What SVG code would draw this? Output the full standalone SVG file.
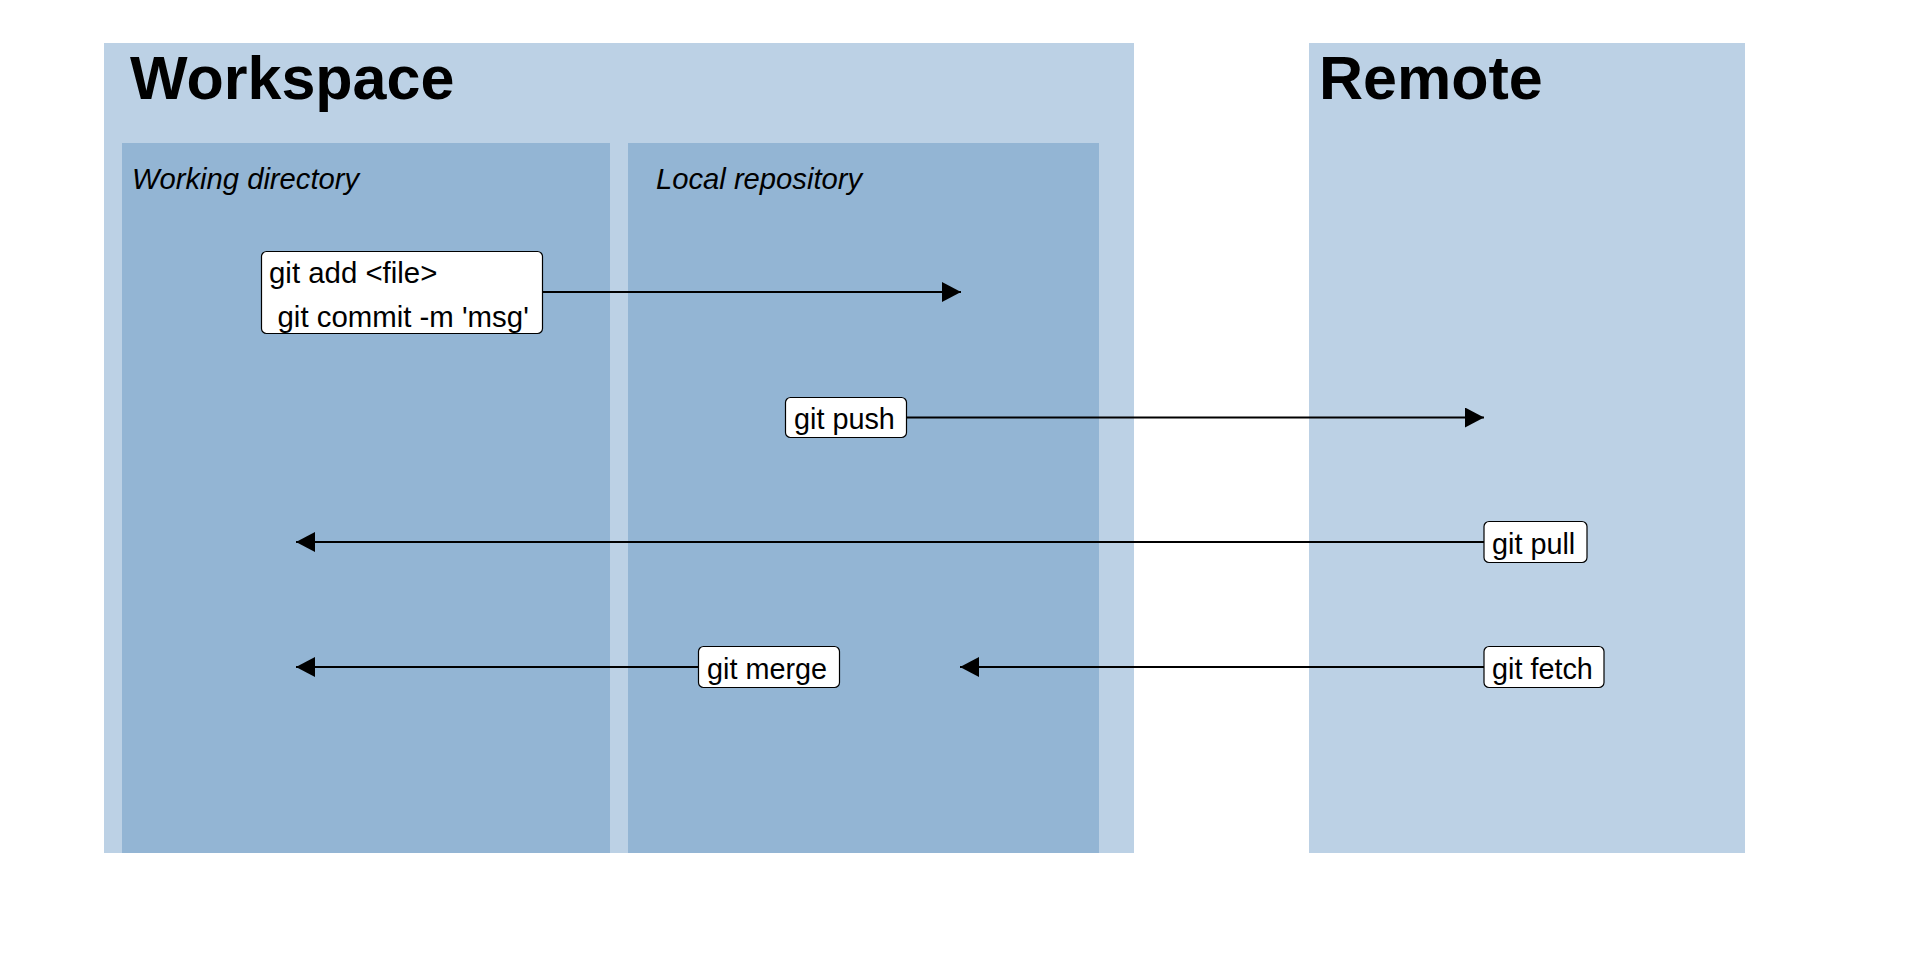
<svg xmlns="http://www.w3.org/2000/svg" width="1920" height="960" viewBox="0 0 1920 960">
  <style>
    .outer { fill: #bcd1e5; }
    .inner { fill: #93b5d4; }
    .title { font-family: "Liberation Sans", Arial, sans-serif; font-weight: bold; font-size: 61px; fill: #000; }
    .sub { font-family: "Liberation Sans", Arial, sans-serif; font-style: italic; font-size: 29.2px; fill: #000; }
    .box { fill: #fff; stroke: #000; stroke-width: 1.2; }
    .lbl { font-family: "Liberation Sans", Arial, sans-serif; font-size: 28.8px; fill: #000; }
    .conn { stroke: #000; stroke-width: 2; fill: none; marker-end: url(#arrow); }
  </style>
  <defs>
    <marker id="arrow" markerUnits="userSpaceOnUse" markerWidth="20" markerHeight="20" refX="19" refY="10" orient="auto">
      <path d="M0,0 L19,10 L0,20 z" fill="#000"/>
    </marker>
  </defs>
  <rect width="1920" height="960" fill="#fff"/>

  <g id="workspace">
    <rect class="outer" x="104" y="43" width="1030" height="810"/>
    <text class="title" x="130" y="98.5">Workspace</text>
  </g>
  <g id="working-directory">
    <rect class="inner" x="122" y="143" width="488" height="710"/>
    <text class="sub" x="132" y="189">Working directory</text>
  </g>
  <g id="local-repository">
    <rect class="inner" x="628" y="143" width="471" height="710"/>
    <text class="sub" x="656" y="189">Local repository</text>
  </g>
  <g id="remote">
    <rect class="outer" x="1309" y="43" width="436" height="810"/>
    <text class="title" x="1319" y="98.5">Remote</text>
  </g>

  <g id="connectors">
    <line class="conn" x1="542" y1="292" x2="961" y2="292"/>
    <line class="conn" x1="906" y1="417.5" x2="1484" y2="417.5"/>
    <line class="conn" x1="1484" y1="542" x2="296" y2="542"/>
    <line class="conn" x1="698" y1="667" x2="296" y2="667"/>
    <line class="conn" x1="1484" y1="667" x2="960" y2="667"/>
  </g>

  <g id="git-add-commit">
    <rect class="box" x="261.5" y="251.5" width="281" height="82" rx="5"/>
    <text class="lbl" x="269" y="283" style="font-size:29.4px">git add &lt;file&gt;</text>
    <text class="lbl" x="277.5" y="327" style="font-size:29.4px">git commit -m 'msg'</text>
  </g>
  <g id="git-push">
    <rect class="box" x="785.5" y="397.5" width="121" height="40" rx="5"/>
    <text class="lbl" x="794" y="429">git push</text>
  </g>
  <g id="git-pull">
    <rect class="box" x="1484" y="521.5" width="103" height="41" rx="5"/>
    <text class="lbl" x="1492" y="554">git pull</text>
  </g>
  <g id="git-merge">
    <rect class="box" x="698.5" y="646.5" width="141" height="41" rx="5"/>
    <text class="lbl" x="707" y="679">git merge</text>
  </g>
  <g id="git-fetch">
    <rect class="box" x="1484" y="646.5" width="120" height="41" rx="5"/>
    <text class="lbl" x="1492" y="679">git fetch</text>
  </g>
</svg>
